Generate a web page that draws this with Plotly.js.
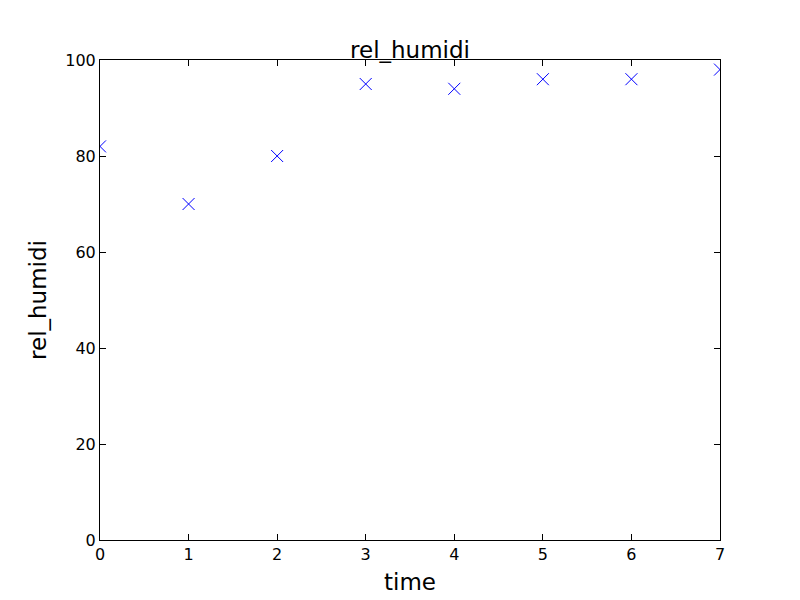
<!DOCTYPE html>
<html>
<head>
<script src="https://cdn.plot.ly/plotly-3.0.1.min.js"></script>
<style>body{margin:0;background:#fff}</style>
</head>
<body>
<div id="chart" style="width:800px;height:600px"></div>
<script>
const time = [0, 1, 2, 3, 4, 5, 6, 7];
const relHumidi = [82, 70, 80, 95, 94, 96, 96, 98];

const axisBase = {
    showline: true, mirror: 'ticks', linecolor: '#000', linewidth: 1,
    ticks: 'inside', ticklen: 6, tickcolor: '#000',
    showgrid: false, zeroline: false,
    tickfont: { family: 'DejaVu Sans', size: 16, color: '#000' }
};

Plotly.newPlot('chart', [{
    x: time, y: relHumidi, type: 'scatter', mode: 'markers',
    marker: { symbol: 'x-thin', size: 12, line: { color: '#0000ff', width: 1 } },
    cliponaxis: true
}], {
    width: 800, height: 600,
    margin: { l: 100, r: 80, t: 60, b: 60 },
    paper_bgcolor: '#fff', plot_bgcolor: '#fff',
    showlegend: false,
    title: { text: 'rel_humidi', x: 0.5125, y: 0.93, font: { family: 'DejaVu Sans', size: 23, color: '#000' } },
    xaxis: { ...axisBase, range: [0, 7], dtick: 1,
        title: { text: 'time', standoff: 10, font: { family: 'DejaVu Sans', size: 23, color: '#000' } } },
    yaxis: { ...axisBase, range: [0, 100], dtick: 20,
        title: { text: 'rel_humidi', standoff: 12, font: { family: 'DejaVu Sans', size: 23, color: '#000' } } }
}, { displayModeBar: false });
</script>
</body>
</html>
